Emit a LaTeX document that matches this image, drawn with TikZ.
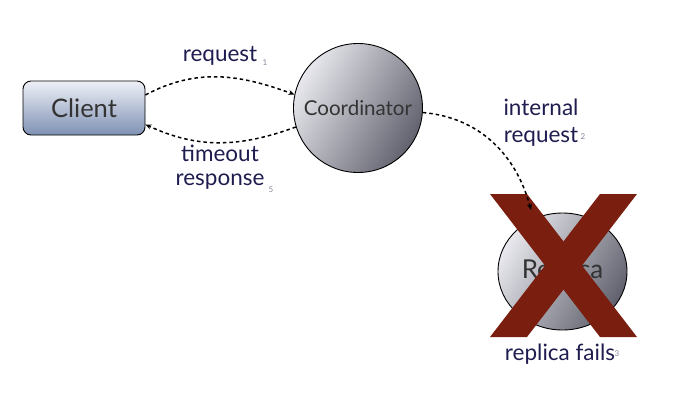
\documentclass[tikz,border=0pt]{standalone}
\usepackage{fontspec}
\setmainfont{Lato}
\usetikzlibrary{arrows.meta,shapes.geometric}
\definecolor{navy}{HTML}{1F1D4F}
\definecolor{boxtop}{HTML}{EEF0F6}
\definecolor{boxbot}{HTML}{7F91B4}
\definecolor{ballL}{HTML}{E8E8EE}
\definecolor{ballR}{HTML}{62626F}
\definecolor{xred}{HTML}{7A1E10}
\definecolor{dgrey}{HTML}{333333}
\tikzset{
  x=1pt,y=1pt,
  label/.style={text=navy,font=\fontsize{22.5}{24}\selectfont,inner sep=0pt},
  idx/.style={text=navy!55,font=\fontsize{8}{9}\selectfont,inner sep=0pt},
  ball/.style={draw=black,line width=0.9pt,left color=ballL,right color=ballR,shading angle=60,text=dgrey,inner sep=0pt},
  link/.style={line width=1.5pt,dash pattern=on 3.5pt off 3pt,-{Stealth[length=6pt,width=5pt]}},
}
\begin{document}
\begin{tikzpicture}
\useasboundingbox (0,0) rectangle (690,-410);
\node[draw=black,line width=0.9pt,rounded corners=8pt,top color=boxtop,bottom color=boxbot,
      minimum width=122pt,minimum height=54pt,text=dgrey,font=\fontsize{25.5}{27}\selectfont]
      (client) at (84,-108) {Client};
\node[ball,circle,minimum size=129pt,font=\fontsize{20.5}{22}\selectfont] (coord) at (358,-108) {Coordinator};
\node[ball,ellipse,minimum width=129pt,minimum height=117pt,font=\fontsize{26}{28}\selectfont] (replica) at (562.5,-271.5) {Replica};
\fill[xred] (490,-194) coordinate (xa) -- (527,-194) -- (637,-337) -- (600,-337) -- cycle;
\fill[xred] (600,-194) coordinate (xb) -- (637,-194) -- (527,-337) -- (490,-337) -- cycle;
\coordinate (tip) at (531,-210);
\draw[link] (client.12) to[out=28,in=160] (coord.168);
\draw[link] (coord.197) to[out=200,in=-25] (client.-15);
\draw[link] (coord.-4) to[out=-5,in=105] (tip);
\node[label] (l1) at (220,-56) {request};
\node[idx] (i1) at (265,-63) {1};
\node[label] (l2a) at (220,-153) {timeout};
\node[label] (l2b) at (220,-182) {response};
\node[idx] (i5) at (271,-190) {5};
\node[label] (l3a) at (541,-107) {internal};
\node[label] (l3b) at (541,-137) {request};
\node[idx] (i2) at (583,-137) {2};
\node[label] (l4) at (560,-354) {replica fails};
\node[idx] (i3) at (617,-354) {3};
\end{tikzpicture}
\end{document}
